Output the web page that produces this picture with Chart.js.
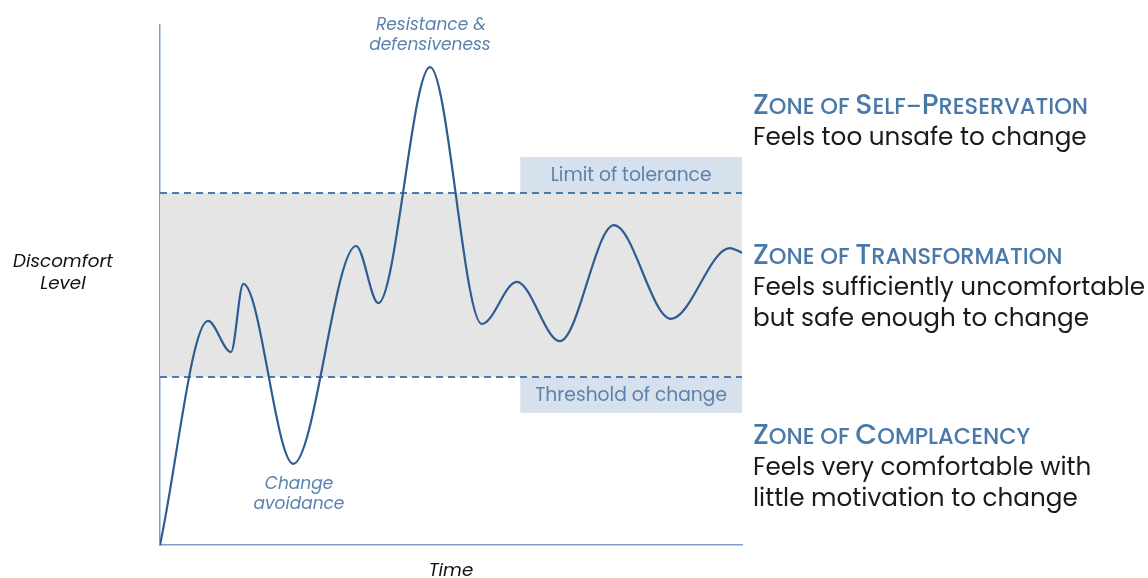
<!DOCTYPE html>
<html>
<head>
<meta charset="utf-8">
<script src="https://cdn.jsdelivr.net/npm/chart.js@4.4.0/dist/chart.umd.min.js"></script>
<style>
  html, body { margin: 0; padding: 0; background: #fff; }
  #wrap { position: relative; width: 1148px; height: 578px; }
</style>
</head>
<body>
<div id="wrap"><canvas id="myChart" width="1148" height="578"></canvas></div>
<script>
// time axis (0-100) and discomfort level (0-100) at each turning point
const timePoints = [0, 8.25, 12.2, 14.3, 22.9, 33.7, 37.5, 46.4, 55.3, 61.3, 68.7, 78.0, 87.8, 97.9, 100];
const discomfort = [0, 43.1, 37.1, 50.2, 15.6, 57.5, 46.5, 91.9, 42.5, 50.6, 39.2, 61.5, 43.5, 57.1, 56.2];

const thresholdOfChange = 32.3;
const limitOfTolerance = 67.7;

const zones = [
    { title: 'Zone of Self–Preservation', lines: ['Feels too unsafe to change'] },
    { title: 'Zone of Transformation', lines: ['Feels sufficiently uncomfortable', 'but safe enough to change'] },
    { title: 'Zone of Complacency', lines: ['Feels very comfortable with', 'little motivation to change'] }
];

const FONT = 'Poppins, Inter, "Noto Sans", sans-serif';
const LABEL_BLUE = '#5a82ad';
const HEAD_BLUE = '#4a79a9';

function smallCaps(ctx, text, x, y, big, small) {
    let cx = x;
    for (const ch of text) {
        const isBig = ch !== ch.toLowerCase();
        ctx.font = '500 ' + (isBig ? big : small) + 'px ' + FONT;
        const c = ch.toUpperCase();
        ctx.fillText(c, cx, y);
        cx += ctx.measureText(c).width;
    }
}

// grey band, dashed limits, labels and the side text
const zonePlugin = {
    id: 'zones',
    beforeDatasetsDraw(chart) {
        const ctx = chart.ctx;
        const xs = chart.scales.x, ys = chart.scales.y;
        const left = xs.getPixelForValue(0), right = xs.getPixelForValue(100);
        const yTop = ys.getPixelForValue(limitOfTolerance);
        const yBot = ys.getPixelForValue(thresholdOfChange);
        const boxL = xs.getPixelForValue(61.9);
        const boxH = ys.getPixelForValue(0) - ys.getPixelForValue(6.9);

        ctx.save();
        ctx.fillStyle = '#e5e5e5';
        ctx.fillRect(left, yTop, right - left, yBot - yTop);
        ctx.fillStyle = '#d6e1ed';
        ctx.fillRect(boxL, yTop - boxH, right - boxL, boxH);
        ctx.fillRect(boxL, yBot, right - boxL, boxH);

        ctx.strokeStyle = '#4a7bb0';
        ctx.lineWidth = 2;
        ctx.setLineDash([7, 5]);
        [yTop, yBot].forEach(function(py) {
            ctx.beginPath();
            ctx.moveTo(left, py);
            ctx.lineTo(right, py);
            ctx.stroke();
        });
        ctx.setLineDash([]);

        ctx.fillStyle = LABEL_BLUE;
        ctx.textAlign = 'center';
        ctx.textBaseline = 'middle';
        ctx.font = '18.7px ' + FONT;
        const mid = (boxL + right) / 2;
        ctx.fillText('Limit of tolerance', mid, yTop - boxH / 2 + 1.5);
        ctx.fillText('Threshold of change', mid, yBot + boxH / 2 + 1.5);
        ctx.restore();
    },
    afterDraw(chart) {
        const ctx = chart.ctx;
        ctx.save();
        ctx.textAlign = 'center';
        ctx.textBaseline = 'middle';

        ctx.fillStyle = LABEL_BLUE;
        ctx.font = 'italic 17px ' + FONT;
        ctx.fillText('Resistance &', 431, 26);
        ctx.fillText('defensiveness', 430, 46);
        ctx.fillText('Change', 299, 485);
        ctx.fillText('avoidance', 299, 505);

        ctx.fillStyle = '#111';
        ctx.font = 'italic 18.3px ' + FONT;
        ctx.fillText('Discomfort', 63, 262);
        ctx.fillText('Level', 63, 284);
        ctx.fillText('Time', 451, 571);

        ctx.textAlign = 'left';
        ctx.textBaseline = 'alphabetic';
        const tops = [114, 264, 444];
        zones.forEach(function(z, i) {
            ctx.fillStyle = HEAD_BLUE;
            smallCaps(ctx, z.title, 753, tops[i], 28.3, 22.5);
            ctx.fillStyle = '#1a1a1a';
            ctx.font = '24.7px ' + FONT;
            z.lines.forEach(function(l, j) {
                ctx.fillText(l, 753, tops[i] + 31 + j * 31);
            });
        });
        ctx.restore();
    }
};

const ctx = document.getElementById('myChart');

const myChart = new Chart(ctx, {
    type: 'line',
    data: {
        datasets: [{
            data: timePoints.map(function(t, i) { return { x: t, y: discomfort[i] }; }),
            borderColor: '#2f5b93',
            borderWidth: 2.2,
            pointRadius: 0,
            cubicInterpolationMode: 'monotone',
            fill: false
        }]
    },
    options: {
        responsive: false,
        animation: false,
        layout: { padding: { left: 160, right: 406, top: 25, bottom: 33 } },
        plugins: { legend: { display: false }, tooltip: { enabled: false } },
        scales: {
            x: {
                type: 'linear', min: 0, max: 100,
                grid: { display: false, drawTicks: false },
                ticks: { display: false },
                border: { display: true, color: '#7f9fc9', width: 1.5 }
            },
            y: {
                min: 0, max: 100,
                grid: { display: false, drawTicks: false },
                ticks: { display: false },
                border: { display: true, color: '#7f9fc9', width: 1.5 }
            }
        }
    },
    plugins: [zonePlugin]
});
</script>
</body>
</html>
